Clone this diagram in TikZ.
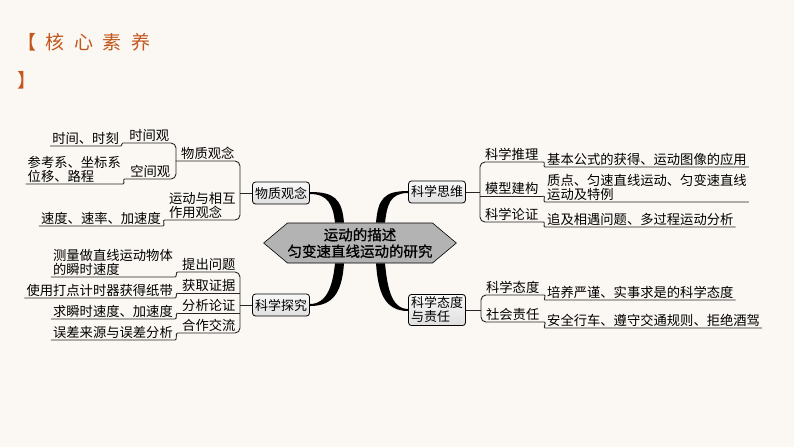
\documentclass[tikz,border=0pt]{standalone}
\usepackage{fontspec}
\newfontfamily\cjk{Noto Sans CJK SC}
\newfontfamily\corefont[FakeBold=1]{Noto Sans CJK SC}
\newfontfamily\titlefont[LetterSpace=50]{Noto Sans CJK SC}
\usepackage{tikz}
\usetikzlibrary{shapes.symbols,calc}
\definecolor{bgcream}{HTML}{FBF8F3}
\definecolor{titleorange}{HTML}{C2571E}
\definecolor{hexgray}{HTML}{B3B3B3}
\tikzset{
    topic/.style={font=\cjk\fontsize{13.3}{13.8}\selectfont, inner xsep=2pt, inner ysep=1pt, align=left},
    leafL/.style={topic, anchor=south east},
    leafR/.style={topic, anchor=south west},
    mainbox/.style={draw, rounded corners=3pt, line width=0.8pt, top color=gray!5, bottom color=gray!25,
        font=\cjk\fontsize{13}{14}\selectfont, inner sep=2.5pt, minimum width=57, minimum height=22, align=left},
    core/.style={signal, signal to=west and east, signal pointer angle=80, draw, line width=0.6pt, fill=hexgray,
        minimum width=184, minimum height=40, inner sep=0pt, align=center, font=\corefont\fontsize{14.5}{16.5}\selectfont},
    branch/.style={line width=0.9pt, black!85},
    bracket/.style={branch, rounded corners=5pt},
    trunk/.style={fill=black}
}

\begin{document}
\begin{tikzpicture}[x=1pt, y=-1pt]
\fill[bgcream] (0,0) rectangle (794,447);
\useasboundingbox (0,0) rectangle (794,447);

% Title
\node[anchor=west, text=titleorange, font=\titlefont\fontsize{19}{20}\selectfont, inner sep=0pt] (title) at (17,42) {【核心素养};
\node[anchor=west, text=titleorange, font=\titlefont\fontsize{19}{20}\selectfont, inner sep=0pt] (titleend) at (17,80) {】};

% Centre and main topics
\node[core] (core) at (360,243) {运动的描述\\匀变速直线运动的研究};
\node[mainbox] (wz) at (281,193) {物质观念};
\node[mainbox] (tj) at (281,305) {科学探究};
\node[mainbox] (sw) at (437,192) {科学思维};
\node[mainbox] (td) at (437,310) {科学态度\\与责任};

% Thick trunks
\fill[trunk] ($(core.north)+(-16,0)$) .. controls +(-2,-24) and +(24,0) .. ($(wz.east)+(0,-1)$)
    -- ($(wz.east)+(0,1)$) .. controls +(18,0) and +(-2,-18) .. ($(core.north)+(-25,0)$) -- cycle;
\fill[trunk] ($(core.north)+(16,0)$) .. controls +(2,-24) and +(-24,0) .. ($(sw.west)+(0,-1)$)
    -- ($(sw.west)+(0,1)$) .. controls +(-18,0) and +(2,-18) .. ($(core.north)+(25,0)$) -- cycle;
\fill[trunk] ($(core.south)+(-16,0)$) .. controls +(-2,28) and +(24,0) .. ($(tj.east)+(0,1)$)
    -- ($(tj.east)+(0,-1)$) .. controls +(18,0) and +(-2,20) .. ($(core.south)+(-25,0)$) -- cycle;
\fill[trunk] ($(core.south)+(16,0)$) .. controls +(2,28) and +(-24,0) .. ($(td.west)+(0,1)$)
    -- ($(td.west)+(0,-1)$) .. controls +(-18,0) and +(2,20) .. ($(core.south)+(25,0)$) -- cycle;

% Physics concepts
\node[leafL, minimum width=64] (a1) at (240,161) {物质观念};
\node[leafL, minimum width=75] (a2) at (240,220) {运动与相互\\作用观念};
\node[leafL, minimum width=53] (a11) at (176,143) {时间观};
\node[leafL, minimum width=51] (a12) at (176,179) {空间观};
\node[leafL] (a111) at (121,146) {时间、时刻};
\node[leafL] (a121) at (123,184) {参考系、坐标系\\位移、路程};
\node[leafL] (a21) at (163,226) {速度、速率、加速度};

% Scientific inquiry
\foreach \n/\y/\t in {b1/272/提出问题, b2/293/获取证据, b3/313/分析论证, b4/333/合作交流}
    \node[leafL, minimum width=62] (\n) at (240,\y) {\t};
\node[leafL] (b11) at (175,277) {测量做直线运动物体\\的瞬时速度};
\node[leafL] (b21) at (175,298) {使用打点计时器获得纸带};
\node[leafL] (b31) at (175,319) {求瞬时速度、加速度};
\node[leafL] (b41) at (175,340) {误差来源与误差分析};

% Scientific thinking
\foreach \n/\y/\t in {c1/162/科学推理, c2/196/模型建构, c3/222/科学论证}
    \node[leafR, minimum width=63] (\n) at (480,\y) {\t};
\node[leafR] (c11) at (545,167) {基本公式的获得、运动图像的应用};
\node[leafR] (c21) at (545,202) {质点、匀速直线运动、匀变速直线\\运动及特例};
\node[leafR] (c31) at (545,227) {追及相遇问题、多过程运动分析};

% Attitude and responsibility
\foreach \n/\y/\t in {d1/295/科学态度, d2/322/社会责任}
    \node[leafR, minimum width=63] (\n) at (481,\y) {\t};
\node[leafR] (d11) at (545,300) {培养严谨、实事求是的科学态度};
\node[leafR] (d21) at (545,328) {安全行车、遵守交通规则、拒绝酒驾};

% Brackets
\draw[branch] (wz.west) -- (a1.south east |- wz.west);
\draw[branch] (tj.west) -- (b1.south east |- tj.west);
\draw[branch] (sw.east) -- (c1.south west |- sw.east);
\draw[branch] (td.east) -- (d1.south west |- td.east);
\draw[bracket] (a1.south west) -- (a1.south east) -- (a2.south east) -- (a2.south west);
\draw[bracket] (a11.south west) -- (a11.south east) -- (a12.south east) -- (a12.south west);
\draw[bracket] (b1.south west) -- (b1.south east) -- (b4.south east) -- (b4.south west);
\draw[bracket] (c1.south east) -- (c1.south west) -- (c3.south west) -- (c3.south east);
\draw[bracket] (d1.south east) -- (d1.south west) -- (d2.south west) -- (d2.south east);
\foreach \n in {b2, b3, c2}
    \draw[branch] (\n.south west) -- (\n.south east);

% Leaves
\foreach \leaf/\topic in {a111/a11, a121/a12, a21/a2, b11/b1, b21/b2, b31/b3, b41/b4}
    \draw[branch] (\leaf.south west) -- (\leaf.south east) to[out=0, in=180] (\topic.south west);
\foreach \leaf/\topic in {c11/c1, c21/c2, c31/c3, d11/d1, d21/d2}
    \draw[branch] (\topic.south east) to[out=0, in=180] (\leaf.south west) -- (\leaf.south east);
\end{tikzpicture}
\end{document}
